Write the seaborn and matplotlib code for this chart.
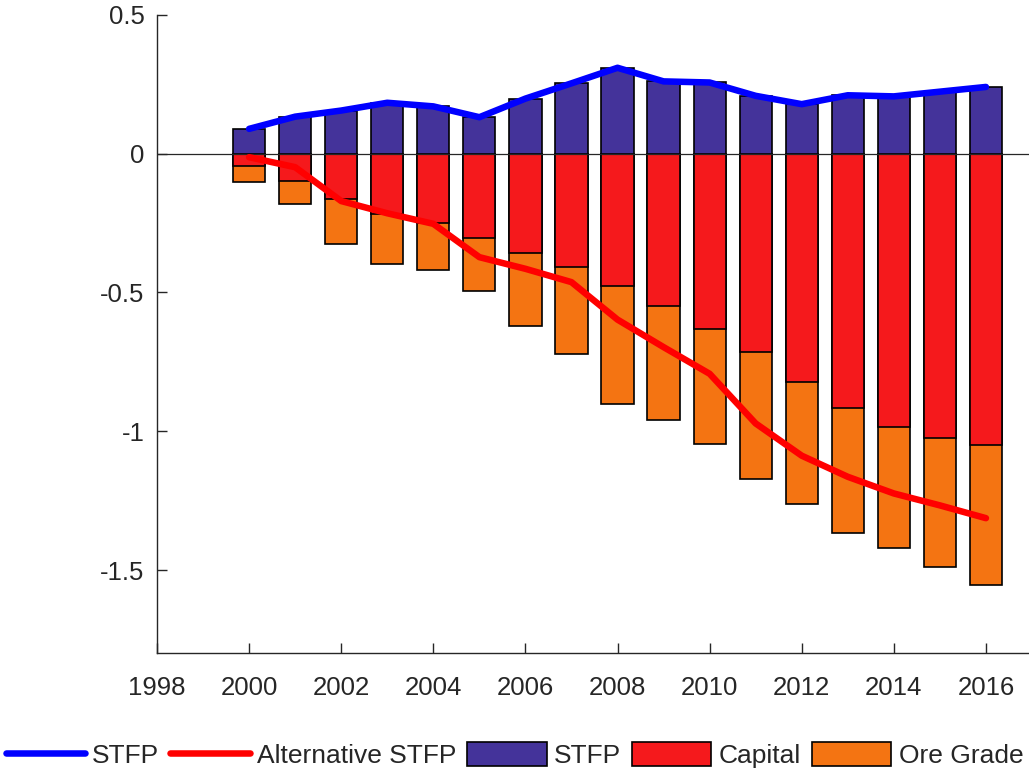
import numpy as np
import matplotlib
matplotlib.use('Agg')
import matplotlib.pyplot as plt
from matplotlib.ticker import FuncFormatter
import seaborn as sns

# values
years = np.arange(2000, 2017)
stfp = [0.089, 0.133, 0.155, 0.183, 0.170, 0.131, 0.198, 0.253, 0.309, 0.260,
        0.256, 0.208, 0.178, 0.210, 0.206, 0.223, 0.240]
capital = [-0.046, -0.097, -0.163, -0.218, -0.249, -0.305, -0.357, -0.409, -0.477, -0.550,
           -0.631, -0.716, -0.822, -0.917, -0.985, -1.026, -1.051]
ore_grade = [-0.058, -0.084, -0.162, -0.179, -0.169, -0.191, -0.265, -0.313, -0.424, -0.408,
             -0.416, -0.457, -0.439, -0.448, -0.436, -0.463, -0.503]
alt_stfp = [-0.013, -0.049, -0.171, -0.215, -0.253, -0.373, -0.415, -0.463, -0.598, -0.697,
            -0.793, -0.972, -1.088, -1.164, -1.224, -1.267, -1.313]
xticks = np.arange(1998, 2017, 2)
yticks = [-1.5, -1, -0.5, 0, 0.5]

sns.set_theme(style='ticks')
plt.rcParams['font.family'] = ['Liberation Sans', 'DejaVu Sans']

fig = plt.figure(figsize=(10.29, 7.76), dpi=100)
ax = fig.add_axes([0.1526, 0.158, 0.8503, 0.823])

c_stfp, c_cap, c_ore = '#44339a', '#f5191c', '#f47412'
bar_kw = dict(width=0.7, native_scale=True, saturation=1, edgecolor='black',
              linewidth=1.2, ax=ax)

# stacked negative bars: ore grade drawn to the cumulative total, capital over it
sns.barplot(x=years, y=np.array(capital) + np.array(ore_grade), color=c_ore, **bar_kw)
h_ore = ax.containers[-1]
sns.barplot(x=years, y=capital, color=c_cap, **bar_kw)
h_cap = ax.containers[-1]
sns.barplot(x=years, y=stfp, color=c_stfp, **bar_kw)
h_bar = ax.containers[-1]

ax.axhline(0, color='#262626', lw=0.9, zorder=2.5)

sns.lineplot(x=years, y=stfp, color='#0000ff', lw=4.7, ax=ax, zorder=3)
h_line1 = ax.lines[-1]
sns.lineplot(x=years, y=alt_stfp, color='#ff0000', lw=4.7, ax=ax, zorder=3)
h_line2 = ax.lines[-1]

ax.set_xlim(1998, 2017)
ax.set_ylim(-1.8, 0.5)
ax.set_xticks(xticks)
ax.set_yticks(yticks)
ax.yaxis.set_major_formatter(FuncFormatter(lambda v, p: '%g' % v))
ax.tick_params(direction='in', length=7, width=1, colors='#262626', labelsize=18.5)
ax.tick_params(axis='x', pad=16.5)
ax.tick_params(axis='y', pad=9)
ax.set_xlabel('')
ax.set_ylabel('')
sns.despine(ax=ax)
for s in ['left', 'bottom']:
    ax.spines[s].set_color('#262626')
    ax.spines[s].set_linewidth(1)

fig.legend([h_line1, h_line2, h_bar, h_cap, h_ore],
           ['STFP', 'Alternative STFP', 'STFP', 'Capital', 'Ore Grade'],
           loc='center', bbox_to_anchor=(0.5, 0.027), ncol=5, frameon=False,
           fontsize=19.0, handlelength=3.0, handleheight=1.05, handletextpad=0.28,
           columnspacing=0.42, borderaxespad=0, borderpad=0)

fig.savefig('out.png', dpi=100)
